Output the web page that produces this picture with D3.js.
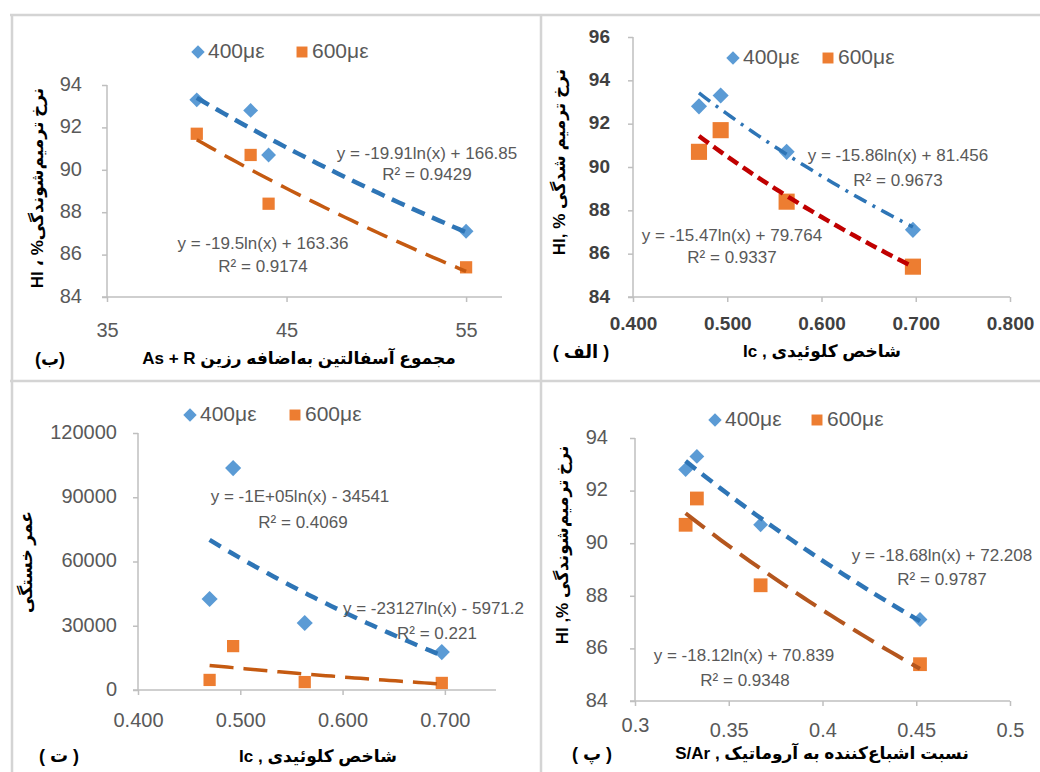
<!DOCTYPE html>
<html><head><meta charset="utf-8">
<script src="https://cdn.jsdelivr.net/npm/d3@7"></script>
<style>
html,body{margin:0;padding:0;background:#fff;}
svg{display:block;}
text{font-family:"Liberation Sans","DejaVu Sans",sans-serif;}
</style></head>
<body><svg id="c" width="1040" height="772"></svg>
<script>
// ---------------- data ----------------
const seriesNames = ["400\u03bc\u03b5", "600\u03bc\u03b5"];
const colloidIndex = [0.470, 0.493, 0.563, 0.697];          // Ic
const asphaltResin = [43, 40, 44, 55];                        // As + R
const satArom = [0.327, 0.333, 0.367, 0.452];                 // S/Ar
const healing400 = [92.8, 93.3, 90.7, 87.1];                  // HI % @400
const healing600 = [90.7, 91.7, 88.4, 85.4];                  // HI % @600
const fatigue400 = [42500, 103600, 31300, 17700];             // fatigue life @400
const fatigue600 = [4700, 20500, 3700, 3300];                 // fatigue life @600

const ticksTL_x = [35, 45, 55];
const ticksTL_y = [84, 86, 88, 90, 92, 94];
const ticksTR_x = [0.4, 0.5, 0.6, 0.7, 0.8];
const ticksTR_y = [84, 86, 88, 90, 92, 94, 96];
const ticksBL_x = [0.4, 0.5, 0.6, 0.7];
const ticksBL_y = [0, 30000, 60000, 90000, 120000];
const ticksBR_x = [0.3, 0.35, 0.4, 0.45, 0.5];
const ticksBR_y = [84, 86, 88, 90, 92, 94];

const eqTL = ["y = -19.91ln(x) + 166.85", "R\u00b2 = 0.9429", "y = -19.5ln(x) + 163.36", "R\u00b2 = 0.9174"];
const eqTR = ["y = -15.86ln(x) + 81.456", "R\u00b2 = 0.9673", "y = -15.47ln(x) + 79.764", "R\u00b2 = 0.9337"];
const eqBL = ["y = -1E+05ln(x) - 34541", "R\u00b2 = 0.4069", "y = -23127ln(x) - 5971.2", "R\u00b2 = 0.221"];
const eqBR = ["y = -18.68ln(x) + 72.208", "R\u00b2 = 0.9787", "y = -18.12ln(x) + 70.839", "R\u00b2 = 0.9348"];

const titlesX = ["As + R \u0645\u062c\u0645\u0648\u0639 \u0622\u0633\u0641\u0627\u0644\u062a\u06cc\u0646 \u0628\u0647\u200c\u0627\u0636\u0627\u0641\u0647 \u0631\u0632\u06cc\u0646",
                 "Ic , \u0634\u0627\u062e\u0635 \u06a9\u0644\u0648\u0626\u06cc\u062f\u06cc",
                 "Ic , \u0634\u0627\u062e\u0635 \u06a9\u0644\u0648\u0626\u06cc\u062f\u06cc",
                 "S/Ar , \u0646\u0633\u0628\u062a \u0627\u0634\u0628\u0627\u0639\u200c\u06a9\u0646\u0646\u062f\u0647 \u0628\u0647 \u0622\u0631\u0648\u0645\u0627\u062a\u06cc\u06a9"];
const titlesY = ["HI \u060c %\u0646\u0631\u062e \u062a\u0631\u0645\u06cc\u0645\u200c\u0634\u0648\u0646\u062f\u06af\u06cc",
                 "HI, % \u0646\u0631\u062e \u062a\u0631\u0645\u06cc\u0645 \u0634\u062f\u06af\u06cc",
                 "\u0639\u0645\u0631 \u062e\u0633\u062a\u06af\u06cc",
                 "HI ,% \u0646\u0631\u062e \u062a\u0631\u0645\u06cc\u0645\u200c\u0634\u0648\u0646\u062f\u06af\u06cc"];
const panelLabels = ["(\u0628)", "( \u0627\u0644\u0641 )", "( \u062a )", "( \u067e )"];

// ---------------- drawing ----------------
const svg = d3.select("#c");
svg.append("rect").attr("width",1040).attr("height",772).attr("fill","#fff");

// panel frame lines
const frame = svg.append("g").attr("stroke","#d4d4d4").attr("stroke-width",2.5);
frame.append("line").attr("x1",10).attr("x2",1040).attr("y1",15).attr("y2",15);
frame.append("line").attr("x1",10).attr("x2",1040).attr("y1",381).attr("y2",381);
frame.append("line").attr("x1",12).attr("x2",12).attr("y1",14).attr("y2",772);
frame.append("line").attr("x1",541).attr("x2",541).attr("y1",14).attr("y2",772);

function logFit(xs, ys){
  const lx = xs.map(Math.log), n = xs.length;
  const mx = d3.mean(lx), my = d3.mean(ys);
  let sxy=0, sxx=0;
  for(let i=0;i<n;i++){ sxy+=(lx[i]-mx)*(ys[i]-my); sxx+=(lx[i]-mx)**2; }
  const a = sxy/sxx; return {a, b: my - a*mx};
}

function panel(c){
  const g = svg.append("g");
  const x = d3.scaleLinear().domain(c.xDom).range(c.xRange);
  const y = d3.scaleLinear().domain(c.yDom).range(c.yRange);
  // axes
  const ax = g.append("g").attr("transform",`translate(0,${c.yRange[0]})`)
    .call(d3.axisBottom(x).tickValues(c.xTicks).tickSize(5).tickFormat(c.xFmt));
  const ay = g.append("g").attr("transform",`translate(${c.xRange[0]},0)`)
    .call(d3.axisLeft(y).tickValues(c.yTicks).tickSize(5).tickFormat(c.yFmt));
  [ax,ay].forEach(a=>{
    a.select(".domain").attr("stroke","#bfbfbf").attr("stroke-width",1.5);
    a.selectAll(".tick line").attr("stroke","#bfbfbf").attr("stroke-width",1.5);
    a.selectAll(".tick text").attr("fill",c.tickColor).attr("font-size",c.tickSize)
      .attr("font-weight",c.tickWeight).attr("font-family","Liberation Sans, sans-serif");
  });
  ax.selectAll(".tick text").attr("dy",null)
    .attr("y",(d,i)=> c.xLabelDy - (c.firstRaise && i===0 ? c.firstRaise : 0))
    .attr("dominant-baseline","middle");
  ay.selectAll(".tick text").attr("x",-c.yLabelGap).attr("dy",null).attr("dominant-baseline","middle");
  ax.select(".domain").attr("d",`M${c.xRange[0]-5},0H${c.xRange[1]}`);
  ay.select(".domain").attr("d",`M0,${c.yRange[0]}V${c.yRange[1]}`);

  const sizes = c.markerSize;
  // markers
  const diamond = d3.symbol().type(d3.symbolSquare).size(sizes[0]);
  const square = d3.symbol().type(d3.symbolSquare).size(sizes[1]);
  c.ys.forEach((ys,si)=>{
    g.append("g").selectAll("path").data(c.xs.map((xv,i)=>[xv,ys[i]])).join("path")
      .attr("d", si===0? diamond : square)
      .attr("transform", d=>`translate(${x(d[0])},${y(d[1])})` + (si===0?" rotate(45)":""))
      .attr("fill", si===0? "#5B9BD5" : "#ED7D31");
  });
  // trendlines
  const xmin = d3.min(c.xs), xmax = d3.max(c.xs);
  c.ys.forEach((ys,si)=>{
    const f = logFit(c.xs, ys);
    const pts = d3.range(0,41).map(k=>{ const xv = xmin + (xmax-xmin)*k/40; return [xv, f.a*Math.log(xv)+f.b]; });
    const st = c.trend[si];
    g.append("path").attr("d", d3.line().x(d=>x(d[0])).y(d=>y(d[1]))(pts))
      .attr("fill","none").attr("stroke",st.color).attr("stroke-width",st.w)
      .attr("stroke-dasharray",st.dash);
  });
  // legend
  const lg = g.append("g");
  lg.append("path").attr("d", d3.symbol().type(d3.symbolSquare).size(90)())
    .attr("transform",`translate(${c.legend[0]},${c.legend[1]}) rotate(45)`).attr("fill","#5B9BD5");
  lg.append("text").attr("x",c.legend[0]+10).attr("y",c.legend[1]).attr("dominant-baseline","middle")
    .attr("font-size",c.legendSize).attr("fill","#595959").text(seriesNames[0]);
  lg.append("path").attr("d", d3.symbol().type(d3.symbolSquare).size(120)())
    .attr("transform",`translate(${c.legend[2]},${c.legend[1]})`).attr("fill","#ED7D31");
  lg.append("text").attr("x",c.legend[2]+10).attr("y",c.legend[1]).attr("dominant-baseline","middle")
    .attr("font-size",c.legendSize).attr("fill","#595959").text(seriesNames[1]);
  // equations
  c.eq.forEach((t,i)=>{
    const p = c.eqPos[i];
    g.append("text").attr("x",p[0]).attr("y",p[1]).attr("text-anchor",p[2]||"middle")
      .attr("dominant-baseline","middle").attr("font-size",17).attr("fill","#595959").text(t);
  });
  // titles
  g.append("text").attr("x",c.xTitle[0]).attr("y",c.xTitle[1]).attr("text-anchor","middle")
    .attr("dominant-baseline","middle").attr("font-size",c.titleSize).attr("font-weight","bold")
    .attr("fill","#000").text(c.xTitleText);
  g.append("text").attr("transform",`translate(${c.yTitle[0]},${c.yTitle[1]}) rotate(-90)`)
    .attr("text-anchor","middle").attr("dominant-baseline","middle").attr("font-size",c.titleSize)
    .attr("font-weight","bold").attr("fill","#000").text(c.yTitleText);
  g.append("text").attr("x",c.label[0]).attr("y",c.label[1]).attr("text-anchor","middle")
    .attr("dominant-baseline","middle").attr("font-size",c.titleSize+1).attr("font-weight","bold")
    .attr("fill","#000").text(c.labelText);
}

const fmtInt = d3.format("d"), fmt3 = d3.format(".3f"), fmtPlain = d=>String(d);

// top-left (ب)
panel({xDom:[35,57], xRange:[107,502], yDom:[84,94], yRange:[297,85],
  xTicks:ticksTL_x, yTicks:ticksTL_y, xFmt:fmtInt, yFmt:fmtInt,
  tickColor:"#595959", tickSize:20, tickWeight:"normal", xLabelDy:35, yLabelGap:25,
  xs:asphaltResin, ys:[healing400, healing600], markerSize:[110,150],
  trend:[{color:"#2E75B6",w:4.5,dash:"14,8"},{color:"#C55A11",w:3.5,dash:"22,10"}],
  legend:[198,52,302], legendSize:21,
  eq:eqTL, eqPos:[[427,155],[427,176],[263,245],[263,268]],
  xTitle:[299,360], xTitleText:titlesX[0], yTitle:[39,188], yTitleText:titlesY[0],
  label:[50,360], labelText:panelLabels[0], titleSize:17});

// top-right (الف)
panel({xDom:[0.4,0.8], xRange:[633,1010], yDom:[84,96], yRange:[297,37],
  xTicks:ticksTR_x, yTicks:ticksTR_y, xFmt:fmt3, yFmt:fmtInt,
  tickColor:"#404040", tickSize:19, tickWeight:"bold", xLabelDy:28, yLabelGap:23,
  xs:colloidIndex, ys:[healing400, healing600], markerSize:[130,260],
  trend:[{color:"#2E75B6",w:3.5,dash:"14,7,3,7"},{color:"#C00000",w:4.5,dash:"12,6"}],
  legend:[733,58,828], legendSize:21,
  eq:eqTR, eqPos:[[898,157],[898,182],[732,237],[732,259]],
  xTitle:[822,353], xTitleText:titlesX[1], yTitle:[561,162], yTitleText:titlesY[1],
  label:[581,353], labelText:panelLabels[1], titleSize:17});

// bottom-left (ت)
panel({xDom:[0.4,0.75], xRange:[138,496], yDom:[0,120000], yRange:[690,433],
  xTicks:ticksBL_x, yTicks:ticksBL_y, xFmt:fmt3, yFmt:fmtInt,
  tickColor:"#595959", tickSize:20, tickWeight:"normal", xLabelDy:32, yLabelGap:21,
  xs:colloidIndex, ys:[fatigue400, fatigue600], markerSize:[130,150],
  trend:[{color:"#2E75B6",w:4.5,dash:"13,9"},{color:"#C55A11",w:3.5,dash:"24,10"}],
  legend:[190,415,295], legendSize:21,
  eq:eqBL, eqPos:[[300,498],[303,524],[343,610,"start"],[437,635]],
  xTitle:[318,758], xTitleText:titlesX[2], yTitle:[28,562], yTitleText:titlesY[2],
  label:[59,757], labelText:panelLabels[2], titleSize:17});

// bottom-right (پ)
panel({xDom:[0.3,0.5], xRange:[635,1010], yDom:[84,94], yRange:[701,438],
  xTicks:ticksBR_x, yTicks:ticksBR_y, xFmt:fmtPlain, yFmt:fmtInt,
  tickColor:"#595959", tickSize:20, tickWeight:"normal", xLabelDy:31, yLabelGap:27, firstRaise:5,
  xs:satArom, ys:[healing400, healing600], markerSize:[110,190],
  trend:[{color:"#2E75B6",w:4.5,dash:"13,8"},{color:"#B4561E",w:4,dash:"24,10"}],
  legend:[715,420,817], legendSize:21,
  eq:eqBR, eqPos:[[942,557],[942,581],[744,657],[745,682]],
  xTitle:[822,755], xTitleText:titlesX[3], yTitle:[564,545], yTitleText:titlesY[3],
  label:[592,755], labelText:panelLabels[3], titleSize:17});
</script></body></html>
